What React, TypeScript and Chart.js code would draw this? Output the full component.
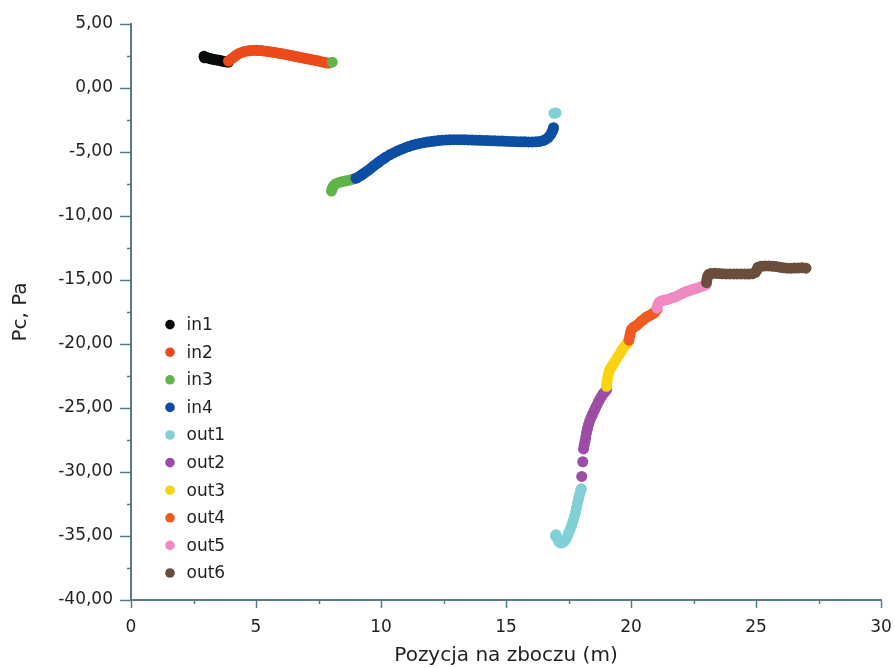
import React, { useEffect, useRef } from "react";
import { Chart, registerables } from "chart.js";

Chart.register(...registerables);

// Series labels and colours (legend order)
const seriesNames = ["in1", "in2", "in3", "in4", "out1", "out2", "out3", "out4", "out5", "out6"];
const seriesColors = [
  "#0b0b0b",
  "#ec4a1c",
  "#5fb547",
  "#0c4ea3",
  "#80d0d5",
  "#9c4ea6",
  "#fbd20f",
  "#f05a22",
  "#f08ac0",
  "#6b4d3c",
];

// Measured points [position (m), Pc (Pa)]
const in1: number[][] = [
  [2.92, 2.48], [2.94, 2.36], [2.98, 2.4], [3.05, 2.36], [3.12, 2.33], [3.2, 2.28], [3.28, 2.24],
  [3.36, 2.21], [3.44, 2.19], [3.52, 2.16], [3.6, 2.12], [3.68, 2.09], [3.76, 2.06], [3.84, 2.04], [3.9, 2.03],
];
const in2: number[][] = [
  [3.9, 2.1], [4.0, 2.25], [4.1, 2.4], [4.2, 2.55], [4.3, 2.67], [4.4, 2.76], [4.5, 2.83], [4.6, 2.88],
  [4.7, 2.91], [4.8, 2.93], [4.9, 2.94], [5.0, 2.94], [5.1, 2.93], [5.2, 2.92], [5.3, 2.9], [5.4, 2.88],
  [5.5, 2.85], [5.6, 2.82], [5.7, 2.79], [5.8, 2.76], [5.9, 2.72], [6.0, 2.69], [6.1, 2.65], [6.2, 2.62],
  [6.3, 2.58], [6.4, 2.54], [6.5, 2.5], [6.6, 2.46], [6.7, 2.42], [6.8, 2.38], [6.9, 2.34], [7.0, 2.3],
  [7.1, 2.26], [7.2, 2.22], [7.3, 2.18], [7.4, 2.14], [7.5, 2.1], [7.6, 2.06], [7.7, 2.02], [7.8, 1.98], [7.9, 1.95],
];
const in3: number[][] = [
  [8.05, 2.02],
  [8.02, -8.05], [8.05, -7.85], [8.1, -7.65], [8.18, -7.5], [8.3, -7.4], [8.42, -7.33], [8.55, -7.27],
  [8.68, -7.22], [8.8, -7.16], [8.9, -7.1],
];
const in4: number[][] = [
  [9.0, -7.05], [9.1, -6.95], [9.2, -6.82], [9.3, -6.68], [9.4, -6.55], [9.5, -6.42], [9.6, -6.26],
  [9.7, -6.1], [9.8, -5.95], [9.9, -5.8], [10.0, -5.66], [10.1, -5.53], [10.2, -5.4], [10.35, -5.22],
  [10.5, -5.07], [10.65, -4.93], [10.8, -4.8], [10.95, -4.68], [11.1, -4.57], [11.25, -4.48], [11.4, -4.4],
  [11.55, -4.33], [11.7, -4.27], [11.85, -4.22], [12.0, -4.18], [12.15, -4.14], [12.3, -4.11], [12.45, -4.08],
  [12.6, -4.06], [12.75, -4.05], [12.9, -4.04], [13.05, -4.04], [13.2, -4.04], [13.35, -4.05], [13.5, -4.06],
  [13.65, -4.07], [13.8, -4.08], [13.95, -4.09], [14.1, -4.1], [14.25, -4.11], [14.4, -4.12], [14.55, -4.13],
  [14.7, -4.14], [14.85, -4.15], [15.0, -4.16], [15.15, -4.17], [15.3, -4.18], [15.45, -4.19], [15.6, -4.2],
  [15.75, -4.2], [15.9, -4.21], [16.05, -4.21], [16.2, -4.2], [16.35, -4.17], [16.5, -4.1], [16.6, -4.0],
  [16.7, -3.85], [16.78, -3.65], [16.84, -3.45], [16.88, -3.25], [16.9, -3.1],
];
const out1: number[][] = [
  [16.92, -1.98], [17.0, -1.95],
  [16.98, -35.0], [17.0, -34.9], [17.06, -35.2], [17.12, -35.45], [17.2, -35.55], [17.28, -35.5],
  [17.36, -35.35], [17.44, -35.1], [17.5, -34.8], [17.56, -34.5], [17.62, -34.2], [17.68, -33.85],
  [17.73, -33.5], [17.78, -33.15], [17.82, -32.8], [17.86, -32.45], [17.9, -32.1], [17.94, -31.8],
  [17.98, -31.5], [18.01, -31.3],
];
const out2: number[][] = [
  [18.03, -30.35], [18.07, -29.2],
  [18.1, -28.2], [18.13, -27.9], [18.16, -27.6], [18.19, -27.3], [18.22, -26.95], [18.26, -26.6],
  [18.3, -26.3], [18.35, -26.0], [18.4, -25.75], [18.46, -25.5], [18.52, -25.25], [18.58, -25.0],
  [18.64, -24.75], [18.7, -24.5], [18.76, -24.3], [18.82, -24.1], [18.88, -23.9], [18.95, -23.75], [19.02, -23.6],
];
const out3: number[][] = [
  [19.02, -23.3], [19.04, -23.0], [19.06, -22.7], [19.09, -22.4], [19.13, -22.1], [19.2, -21.85],
  [19.28, -21.6], [19.36, -21.35], [19.44, -21.1], [19.52, -20.85], [19.6, -20.6], [19.68, -20.35],
  [19.76, -20.15], [19.84, -19.95], [19.9, -19.8],
];
const out4: number[][] = [
  [19.92, -19.7], [19.95, -19.4], [19.98, -19.1], [20.02, -18.85], [20.1, -18.7], [20.18, -18.6],
  [20.26, -18.5], [20.34, -18.35], [20.42, -18.2], [20.5, -18.1], [20.58, -17.95], [20.66, -17.85],
  [20.74, -17.78], [20.82, -17.7], [20.9, -17.6], [20.98, -17.45], [21.04, -17.3],
];
const out5: number[][] = [
  [21.04, -17.2], [21.07, -16.95], [21.12, -16.75], [21.2, -16.65], [21.3, -16.6], [21.4, -16.55],
  [21.5, -16.5], [21.6, -16.42], [21.7, -16.35], [21.8, -16.3], [21.9, -16.2], [22.0, -16.1],
  [22.1, -16.0], [22.2, -15.9], [22.3, -15.85], [22.4, -15.78], [22.5, -15.72], [22.6, -15.66],
  [22.7, -15.6], [22.8, -15.52], [22.9, -15.45], [23.0, -15.38],
];
const out6: number[][] = [
  [23.02, -15.2], [23.04, -14.95], [23.07, -14.7], [23.12, -14.55], [23.2, -14.5], [23.35, -14.48],
  [23.5, -14.5], [23.65, -14.52], [23.8, -14.53], [23.95, -14.53], [24.1, -14.53], [24.25, -14.53],
  [24.4, -14.53], [24.55, -14.53], [24.7, -14.54], [24.85, -14.52], [24.98, -14.4], [25.04, -14.2],
  [25.08, -14.0], [25.2, -13.93], [25.35, -13.9], [25.5, -13.9], [25.65, -13.92], [25.8, -13.95],
  [25.95, -14.0], [26.1, -14.05], [26.25, -14.08], [26.4, -14.08], [26.55, -14.07], [26.7, -14.06],
  [26.85, -14.05], [27.0, -14.08],
];

const seriesPoints = [in1, in2, in3, in4, out1, out2, out3, out4, out5, out6];

const xTitle = "Pozycja na zboczu (m)";
const yTitle = "Pc, Pa";

const AXIS_COLOR = "#557a8c";
const TEXT_COLOR = "#231f20";
const FONT_FAMILY = "'DejaVu Sans', 'Liberation Sans', Arial, sans-serif";

// Short unlabeled ticks halfway between the labelled ones
const minorTicksPlugin = {
  id: "minorTicks",
  afterDraw(chart: any) {
    const { ctx, scales } = chart;
    const x = scales.x;
    const y = scales.y;
    ctx.save();
    ctx.strokeStyle = AXIS_COLOR;
    ctx.lineWidth = 1.5;
    ctx.beginPath();
    for (let v = x.min + 2.5; v < x.max; v += 5) {
      const px = Math.round(x.getPixelForValue(v)) + 0.5;
      ctx.moveTo(px, y.bottom);
      ctx.lineTo(px, y.bottom + 4);
    }
    for (let v = y.max - 2.5; v > y.min; v -= 5) {
      const py = Math.round(y.getPixelForValue(v)) + 0.5;
      ctx.moveTo(x.left - 4, py);
      ctx.lineTo(x.left, py);
    }
    ctx.stroke();
    ctx.restore();
  },
};

// Legend drawn inside the lower-left corner of the plot area
const insetLegendPlugin = {
  id: "insetLegend",
  afterDraw(chart: any) {
    const { ctx, chartArea } = chart;
    const datasets = chart.data.datasets;
    const markerX = chartArea.left + 39;
    const rowGap = 27.6;
    const firstY = chartArea.bottom - 27 - rowGap * (datasets.length - 1);
    ctx.save();
    ctx.font = `17px ${FONT_FAMILY}`;
    ctx.textBaseline = "middle";
    ctx.textAlign = "left";
    datasets.forEach((ds: any, i: number) => {
      const cy = firstY + i * rowGap;
      ctx.beginPath();
      ctx.fillStyle = ds.backgroundColor;
      ctx.arc(markerX, cy, 4.8, 0, Math.PI * 2);
      ctx.fill();
      ctx.fillStyle = TEXT_COLOR;
      ctx.fillText(ds.label, markerX + 16.5, cy + 1);
    });
    ctx.restore();
  },
};

export default function App() {
  const canvasRef = useRef<HTMLCanvasElement | null>(null);

  useEffect(() => {
    const canvas = canvasRef.current;
    if (!canvas) return;

    const datasets = seriesNames.map((name, i) => ({
      label: name,
      data: seriesPoints[i].map(([x, y]) => ({ x, y })),
      backgroundColor: seriesColors[i],
      borderColor: seriesColors[i],
      borderWidth: 0,
      pointRadius: 5.5,
      pointHoverRadius: 5.5,
      showLine: false,
      order: -i,
    }));

    const chart = new Chart(canvas, {
      type: "scatter",
      data: { datasets },
      plugins: [minorTicksPlugin, insetLegendPlugin],
      options: {
        responsive: false,
        animation: false,
        devicePixelRatio: 1,
        layout: { padding: { top: 24, right: 14, bottom: 0, left: 0 } },
        plugins: {
          legend: { display: false },
          tooltip: { enabled: false },
        },
        scales: {
          x: {
            type: "linear",
            min: 0,
            max: 30,
            border: { display: true, color: AXIS_COLOR, width: 2 },
            grid: {
              display: true,
              drawOnChartArea: false,
              drawTicks: true,
              tickLength: 8,
              tickColor: AXIS_COLOR,
              tickWidth: 1.5,
            },
            ticks: {
              stepSize: 5,
              padding: 9,
              color: TEXT_COLOR,
              font: { family: FONT_FAMILY, size: 17 },
              callback: (v: any) => String(v),
            },
            title: {
              display: true,
              text: xTitle,
              color: TEXT_COLOR,
              font: { family: FONT_FAMILY, size: 20 },
              padding: { top: 0, bottom: 0 },
            },
            afterFit: (scale: any) => {
              scale.height = 68;
              scale.paddingLeft = 0;
              scale.paddingRight = 0;
            },
          },
          y: {
            type: "linear",
            min: -40,
            max: 5,
            border: { display: true, color: AXIS_COLOR, width: 2 },
            grid: {
              display: true,
              drawOnChartArea: false,
              drawTicks: true,
              tickLength: 11,
              tickColor: AXIS_COLOR,
              tickWidth: 1.5,
            },
            ticks: {
              stepSize: 5,
              padding: 7,
              color: TEXT_COLOR,
              font: { family: FONT_FAMILY, size: 17 },
              callback: (v: any) => Number(v).toFixed(2).replace(".", ","),
            },
            title: {
              display: true,
              text: yTitle,
              color: TEXT_COLOR,
              font: { family: FONT_FAMILY, size: 20 },
              padding: { top: 9, bottom: 0 },
            },
            afterFit: (scale: any) => {
              scale.width = 131;
              scale.paddingTop = 0;
              scale.paddingBottom = 0;
            },
          },
        },
      },
    });

    return () => {
      chart.destroy();
    };
  }, []);

  return (
    <div style={{ position: "fixed", left: 0, top: 0, width: 895, height: 668, background: "#ffffff" }}>
      <canvas ref={canvasRef} width={895} height={668} style={{ display: "block" }} />
    </div>
  );
}
